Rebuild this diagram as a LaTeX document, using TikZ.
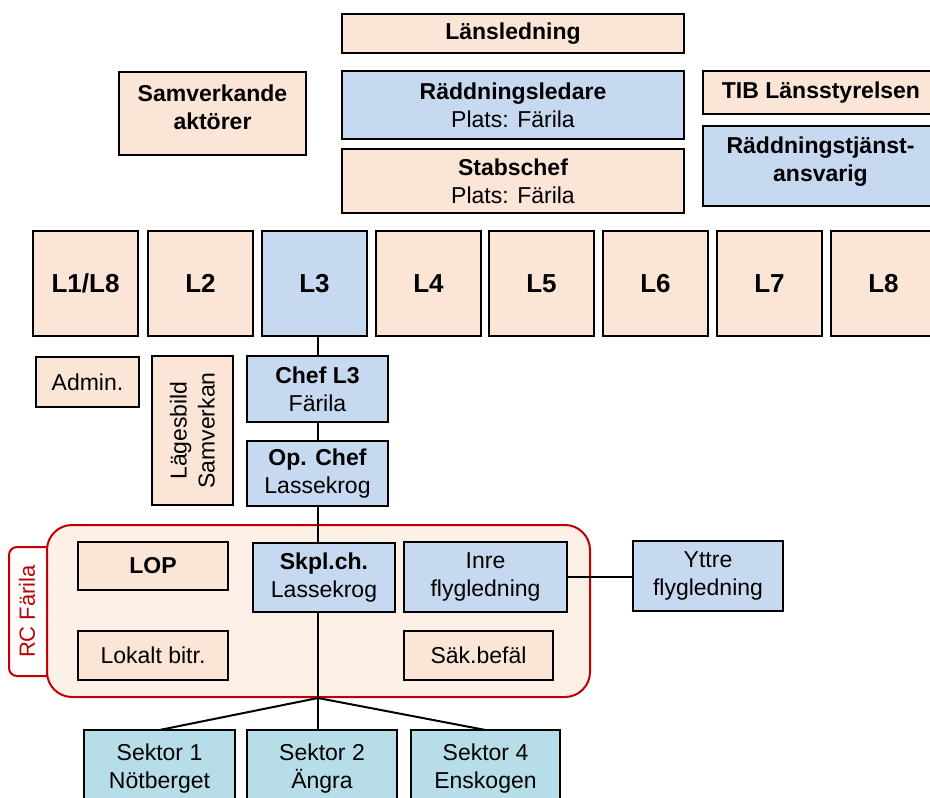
\documentclass[tikz,border=0pt]{standalone}
\usepackage{fontspec}
\setmainfont{Liberation Sans}
\definecolor{peachfill}{HTML}{FBE5D6}
\definecolor{bluefill}{HTML}{C6D9F0}
\definecolor{tealfill}{HTML}{B7DEE8}
\definecolor{rcfill}{HTML}{FDF0E6}
\definecolor{rcred}{HTML}{C00000}
\pgfdeclarelayer{back}
\pgfdeclarelayer{edges}
\pgfsetlayers{back,edges,main}
\begin{document}
\begin{tikzpicture}[x=1pt,y=-1pt,
  box/.style={draw=black, line width=2pt, inner sep=0pt, outer sep=0pt,
    align=center, font=\fontsize{23}{28}\selectfont},
  peachbox/.style={box, fill=peachfill},
  bluebox/.style={box, fill=bluefill},
  tealbox/.style={box, fill=tealfill},
  lbox/.style={box, minimum width=105, minimum height=105,
    font=\fontsize{26}{30}\selectfont\bfseries},
  conn/.style={line width=2pt, draw=black}]
\useasboundingbox (0,0) rectangle (930,798);

% command level
\node[peachbox, minimum width=342, minimum height=39] (lans) at (513,33.5) {\textbf{Länsledning}};
\node[bluebox, minimum width=342, minimum height=68] (rl) at (513,105) {\textbf{Räddningsledare}\\Plats: Färila};
\node[peachbox, minimum width=342, minimum height=64] (stab) at (513,181) {\textbf{Stabschef}\\Plats: Färila};
\node[peachbox, minimum width=187, minimum height=83, text depth=12pt] (samv) at (212.5,113.5) {\textbf{Samverkande}\\\textbf{aktörer}};
\node[peachbox, minimum width=236, minimum height=43] (tib) at (821,92.5) {\textbf{TIB Länsstyrelsen}};
\node[bluebox, minimum width=236, minimum height=80, text depth=13pt] (rta) at (820.5,166) {\textbf{Räddningstjänst-}\\\textbf{ansvarig}};

% staff functions L1--L8
\node[lbox, fill=peachfill] (l1) at (85.5,283.5) {L1/L8};
\node[lbox, fill=peachfill] (l2) at (200.5,283.5) {L2};
\node[lbox, fill=bluefill]  (l3) at (314.5,283.5) {L3};
\node[lbox, fill=peachfill] (l4) at (428.5,283.5) {L4};
\node[lbox, fill=peachfill] (l5) at (541.5,283.5) {L5};
\node[lbox, fill=peachfill] (l6) at (655.5,283.5) {L6};
\node[lbox, fill=peachfill] (l7) at (769.5,283.5) {L7};
\node[lbox, fill=peachfill] (l8) at (883.5,283.5) {L8};

\node[peachbox, minimum width=103, minimum height=50] (admin) at (87.5,382) {Admin.};
\node[peachbox, rotate=90, minimum width=149, minimum height=81] (lage) at (192.5,430.5) {Lägesbild\\Samverkan};
\node[bluebox, minimum width=141, minimum height=66] (chef) at (317.5,389) {\textbf{Chef L3}\\Färila};
\node[bluebox, minimum width=141, minimum height=65] (op) at (317.5,473.5) {\textbf{Op. Chef}\\Lassekrog};

% RC Färila
\begin{pgfonlayer}{back}
  \draw[rcred, line width=2pt, fill=white, rounded corners=8]
    (47,547) -- (9,547) -- (9,676) -- (47,676);
  \draw[rcred, line width=2pt, fill=rcfill, rounded corners=25]
    (47,525) rectangle (590,697);
\end{pgfonlayer}
\node[rotate=90, text=rcred, font=\fontsize{22}{26}\selectfont] (rclabel) at (27,611.5) {RC Färila};

\node[peachbox, minimum width=150, minimum height=48] (lop) at (153,566) {\textbf{LOP}};
\node[bluebox, minimum width=142, minimum height=69] (skpl) at (324,577.5) {\textbf{Skpl.ch.}\\Lassekrog};
\node[bluebox, minimum width=163, minimum height=70] (inre) at (485.5,577) {Inre\\flygledning};
\node[bluebox, minimum width=150, minimum height=70] (yttre) at (708,576) {Yttre\\flygledning};
\node[peachbox, minimum width=150, minimum height=49] (lok) at (153,655.5) {Lokalt bitr.};
\node[peachbox, minimum width=149, minimum height=49] (sak) at (478.5,655.5) {Säk.befäl};

% sectors
\node[tealbox, minimum width=151, minimum height=78] (s1) at (159.5,769) {Sektor 1\\Nötberget};
\node[tealbox, minimum width=150, minimum height=78] (s2) at (322,769) {Sektor 2\\Ängra};
\node[tealbox, minimum width=149, minimum height=78] (s4) at (485.5,769) {Sektor 4\\Enskogen};

% connectors
\coordinate (split) at (318,698);
\begin{pgfonlayer}{edges}
  \draw[conn] (l3.south -| chef.north) -- (chef.north);
  \draw[conn] (chef.south) -- (op.north);
  \draw[conn] (op.south) -- (op.south |- s2.north);
  \draw[conn] (split) -- (s1.north);
  \draw[conn] (split) -- (s4.north);
  \draw[conn] (inre.east) -- (inre.east -| yttre.west);
\end{pgfonlayer}
\end{tikzpicture}
\end{document}
